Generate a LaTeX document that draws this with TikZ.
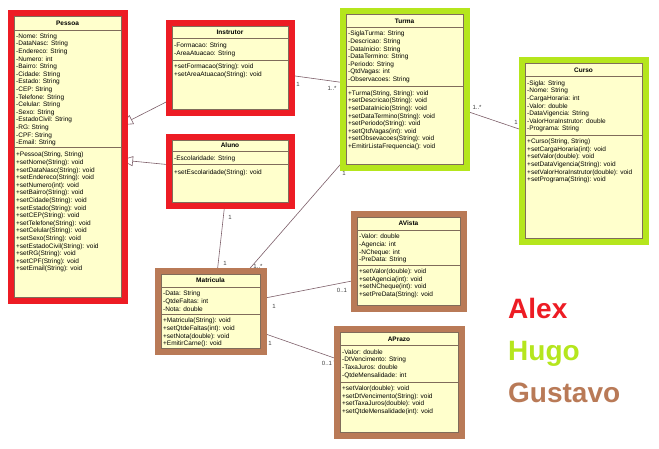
\documentclass[tikz,border=0pt]{standalone}
\usepackage{fontspec}
\setmainfont{Liberation Sans}
\usetikzlibrary{arrows.meta,fit}
\definecolor{alexred}{RGB}{237,28,36}
\definecolor{hugogreen}{RGB}{181,230,29}
\definecolor{gusbrown}{RGB}{185,122,87}
\definecolor{clsfill}{RGB}{255,255,204}
\definecolor{clsborder}{RGB}{128,108,90}
\definecolor{assoc}{RGB}{125,95,105}
\pgfdeclarelayer{bgfill}
\pgfdeclarelayer{lines}
\pgfdeclarelayer{frames}
\pgfsetlayers{bgfill,lines,frames,main}
\begin{document}
\begin{tikzpicture}[x=1pt,y=-1pt,
  cls/.style={draw=clsborder, fill=clsfill, line width=0.7pt, inner sep=0pt, outer sep=0pt},
  clsline/.style={draw=clsborder, line width=0.7pt},
  ctitle/.style={font=\fontsize{6.5}{7.6}\selectfont\bfseries, inner sep=0pt},
  ctext/.style={font=\fontsize{6.5}{7.6}\selectfont, align=left, anchor=north west, inner sep=0pt},
  conn/.style={draw=assoc, line width=0.6pt},
  mult/.style={font=\fontsize{6}{7}\selectfont, text=black!75, inner sep=0pt},
  gen/.style={-{Triangle[open, length=12pt, width=10pt, fill=white]}},
  nav/.style={-{Straight Barb[length=5pt, width=6pt]}},
  clsframe/.style={draw=#1, line width=6pt, inner sep=3.5pt},
  big/.style={font=\fontsize{28}{30}\selectfont\bfseries, anchor=base west, inner sep=0pt}]
\begin{pgfonlayer}{bgfill}
\fill[white] (0,0) rectangle (659,448);
\end{pgfonlayer}
\useasboundingbox (0,0) rectangle (659,448);

% ---------- Pessoa ----------
\node[cls, fit={(14,16) (121,297)}] (pessoa) {};
\draw[clsline] (pessoa.west |- 0,30) -- (pessoa.east |- 0,30);
\draw[clsline] (pessoa.west |- 0,147.7) -- (pessoa.east |- 0,147.7);
\node[ctitle] (tpessoa) at (pessoa.center |- 0,23) {Pessoa};
\node[ctext] (apessoa) at (16,33.4) {-Nome: String\\-DataNasc: String\\-Endereco: String\\-Numero: int\\-Bairro: String\\-Cidade: String\\-Estado: String\\-CEP: String\\-Telefone: String\\-Celular: String\\-Sexo: String\\-EstadoCivil: String\\-RG: String\\-CPF: String\\-Email: String};
\node[ctext] (mpessoa) at (16,152) {+Pessoa(String, String)\\+setNome(String): void\\+setDataNasc(String): void\\+setEndereco(String): void\\+setNumero(int): void\\+setBairro(String): void\\+setCidade(String): void\\+setEstado(String): void\\+setCEP(String): void\\+setTelefone(String): void\\+setCelular(String): void\\+setSexo(String): void\\+setEstadoCivil(String): void\\+setRG(String): void\\+setCPF(String): void\\+setEmail(String): void};

% ---------- Instrutor ----------
\node[cls, fit={(172,26) (288,109)}] (instrutor) {};
\draw[clsline] (instrutor.west |- 0,38.5) -- (instrutor.east |- 0,38.5);
\draw[clsline] (instrutor.west |- 0,60) -- (instrutor.east |- 0,60);
\node[ctitle] (tinstrutor) at (instrutor.center |- 0,32) {Instrutor};
\node[ctext] (ainstrutor) at (174,43) {-Formacao: String\\-AreaAtuacao: String};
\node[ctext] (minstrutor) at (174,63.7) {+setFormacao(String): void\\+setAreaAtuacao(String): void};

% ---------- Aluno ----------
\node[cls, fit={(172,140) (288,202)}] (aluno) {};
\draw[clsline] (aluno.west |- 0,151.5) -- (aluno.east |- 0,151.5);
\draw[clsline] (aluno.west |- 0,164.5) -- (aluno.east |- 0,164.5);
\node[ctitle] (taluno) at (aluno.center |- 0,145.5) {Aluno};
\node[ctext] (aaluno) at (174,156) {-Escolaridade: String};
\node[ctext] (maluno) at (174,169.4) {+setEscolaridade(String): void};

% ---------- Turma ----------
\node[cls, fit={(346,14) (463,164)}] (turma) {};
\draw[clsline] (turma.west |- 0,27) -- (turma.east |- 0,27);
\draw[clsline] (turma.west |- 0,86) -- (turma.east |- 0,86);
\node[ctitle] (tturma) at (turma.center |- 0,21) {Turma};
\node[ctext] (aturma) at (348,31) {-SiglaTurma: String\\-Descricao: String\\-DataInicio: String\\-DataTermino: String\\-Periodo: String\\-QtdVagas: int\\-Observacoes: String};
\node[ctext] (mturma) at (348,90.4) {+Turma(String, String): void\\+setDescricao(String): void\\+setDataInicio(String): void\\+setDataTermino(String): void\\+setPeriodo(String): void\\+setQtdVagas(int): void\\+setObsevacoes(String): void\\+EmitirListaFrequencia(): void};

% ---------- Curso ----------
\node[cls, fit={(525,63) (642,238)}] (curso) {};
\draw[clsline] (curso.west |- 0,76) -- (curso.east |- 0,76);
\draw[clsline] (curso.west |- 0,135) -- (curso.east |- 0,135);
\node[ctitle] (tcurso) at (curso.center |- 0,70) {Curso};
\node[ctext] (acurso) at (527,80.4) {-Sigla: String\\-Nome: String\\-CargaHoraria: int\\-Valor: double\\-DataVigencia: String\\-ValorHoraInstrutor: double\\-Programa: String};
\node[ctext] (mcurso) at (527,138.7) {+Curso(String, String)\\+setCargaHoraria(int): void\\+setValor(double): void\\+setDataVigencia(String): void\\+setValorHoraInstrutor(double): void\\+setPrograma(String): void};

% ---------- Matricula ----------
\node[cls, fit={(161,274) (260,348)}] (matricula) {};
\draw[clsline] (matricula.west |- 0,287) -- (matricula.east |- 0,287);
\draw[clsline] (matricula.west |- 0,314) -- (matricula.east |- 0,314);
\node[ctitle] (tmatricula) at (matricula.center |- 0,280) {Matricula};
\node[ctext] (amatricula) at (163,291) {-Data: String\\-QtdeFaltas: int\\-Nota: double};
\node[ctext] (mmatricula) at (163,318) {+Matricula(String): void\\+setQtdeFaltas(int): void\\+setNota(double): void\\+EmitirCarne(): void};

% ---------- AVista ----------
\node[cls, fit={(357,217) (460,305)}] (avista) {};
\draw[clsline] (avista.west |- 0,230) -- (avista.east |- 0,230);
\draw[clsline] (avista.west |- 0,265) -- (avista.east |- 0,265);
\node[ctitle] (tavista) at (avista.center |- 0,223) {AVista};
\node[ctext] (aavista) at (359,234) {-Valor: double\\-Agencia: int\\-NCheque: int\\-PreData: String};
\node[ctext] (mavista) at (359,268.7) {+setValor(double): void\\+setAgencia(int): void\\+setNCheque(int): void\\+setPreData(String): void};

% ---------- APrazo ----------
\node[cls, fit={(340,332) (458,432)}] (aprazo) {};
\draw[clsline] (aprazo.west |- 0,345.5) -- (aprazo.east |- 0,345.5);
\draw[clsline] (aprazo.west |- 0,382) -- (aprazo.east |- 0,382);
\node[ctitle] (taprazo) at (aprazo.center |- 0,339) {APrazo};
\node[ctext] (aaprazo) at (342,349.4) {-Valor: double\\-DtVencimento: String\\-TaxaJuros: double\\-QtdeMensalidade: int};
\node[ctext] (maprazo) at (342,385.7) {+setValor(double): void\\+setDtVencimento(String): void\\+setTaxaJuros(double): void\\+setQtdeMensalidade(int): void};

% ---------- frames ----------
\begin{pgfonlayer}{frames}
\node[clsframe=alexred, fit=(pessoa)] (fpessoa) {};
\node[clsframe=alexred, fit=(instrutor)] (finstrutor) {};
\node[clsframe=alexred, fit=(aluno)] (faluno) {};
\node[clsframe=hugogreen, fit=(turma)] (fturma) {};
\node[clsframe=hugogreen, fit=(curso)] (fcurso) {};
\node[clsframe=gusbrown, fit=(matricula)] (fmatricula) {};
\node[clsframe=gusbrown, fit=(avista)] (favista) {};
\node[clsframe=gusbrown, fit=(aprazo)] (faprazo) {};
\end{pgfonlayer}

% ---------- connectors ----------
\begin{pgfonlayer}{lines}
\draw[conn, gen] (instrutor.west |- 0,99) -- (pessoa.east |- 0,125);
\draw[conn, gen] (aluno.west |- 0,165) -- (pessoa.east |- 0,160);
\draw[conn] (instrutor.east |- 0,75) -- (turma.west |- 0,83);
\draw[conn] (turma.east |- 0,110) -- (curso.west |- 0,131);
\draw[conn] (aluno.south -| 225,0) -- (matricula.north -| 217,0);
\draw[conn] (turma.west |- 0,158) -- (matricula.north -| 245,0);
\draw[conn, nav] (matricula.east |- 0,299) -- (avista.west |- 0,280);
\draw[conn, nav] (matricula.east |- 0,332) -- (aprazo.west |- 0,360);
\end{pgfonlayer}

% ---------- multiplicities ----------
\node[mult] (m1) at (298,84) {1};
\node[mult] (m2) at (332,88) {1..*};
\node[mult] (m3) at (477,107) {1..*};
\node[mult] (m4) at (516,122) {1};
\node[mult] (m5) at (230,217) {1};
\node[mult] (m6) at (225,263) {1};
\node[mult] (m7) at (344,173) {1};
\node[mult] (m8) at (258,266) {1..*};
\node[mult] (m9) at (274,306) {1};
\node[mult] (m10) at (342,290) {0..1};
\node[mult] (m11) at (270,343) {1};
\node[mult] (m12) at (327,363) {0..1};

% ---------- names ----------
\node[big, text=alexred] (alex) at (508,318) {Alex};
\node[big, text=hugogreen] (hugo) at (508,360) {Hugo};
\node[big, text=gusbrown] (gustavo) at (508,402) {Gustavo};
\end{tikzpicture}
\end{document}
